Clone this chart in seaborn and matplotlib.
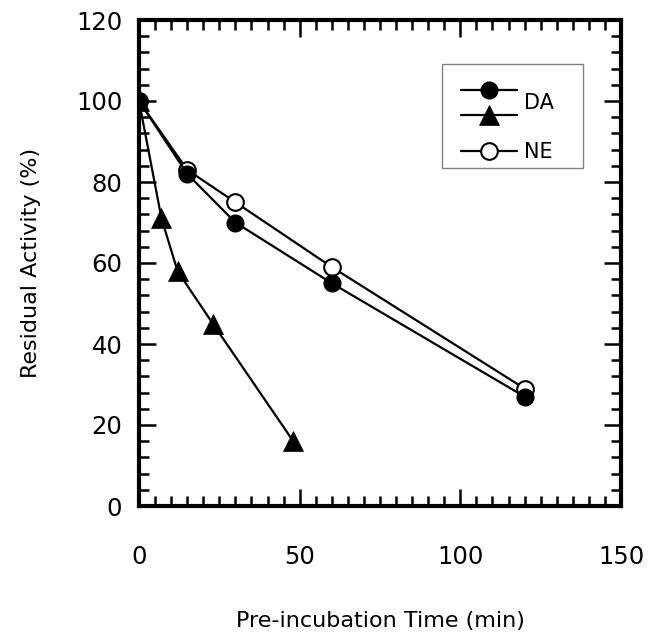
import numpy as np
import pandas as pd
import seaborn as sns
import matplotlib
matplotlib.use("Agg")
import matplotlib.pyplot as plt
from matplotlib.lines import Line2D
from matplotlib.legend_handler import HandlerBase
from matplotlib.ticker import MultipleLocator

# ---- data ----
da_circle_time = [0, 15, 30, 60, 120]
da_circle_activity = [100, 82, 70, 55, 27]
da_tri_time = [0, 7, 12, 23, 48]
da_tri_activity = [100, 71, 58, 45, 16]
ne_time = [0, 15, 30, 60, 120]
ne_activity = [100, 83, 75, 59, 29]

x_ticks = [0, 50, 100, 150]
y_ticks = [0, 20, 40, 60, 80, 100, 120]
legend_labels = ["DA", "NE"]

sns.set_theme(style="white")
plt.rcParams["font.family"] = ["DejaVu Sans"]
plt.rcParams.update({"text.color": "black", "axes.labelcolor": "black",
                     "xtick.color": "black", "ytick.color": "black"})

fig = plt.figure(figsize=(6.54, 6.37), dpi=100)
ax = fig.add_axes([139/654, 1-506/637, (621-139)/654, (506-20)/637])

df_ne = pd.DataFrame({"t": ne_time, "a": ne_activity})
df_c = pd.DataFrame({"t": da_circle_time, "a": da_circle_activity})
df_t = pd.DataFrame({"t": da_tri_time, "a": da_tri_activity})

LW = 1.6
sns.lineplot(data=df_ne, x="t", y="a", ax=ax, color="black", lw=LW,
             marker="o", markersize=12, markerfacecolor="white",
             markeredgecolor="black", markeredgewidth=1.5,
             estimator=None, sort=False, zorder=3)
sns.lineplot(data=df_t, x="t", y="a", ax=ax, color="black", lw=LW,
             marker="^", markersize=14, markerfacecolor="black",
             markeredgecolor="black", markeredgewidth=0.5,
             estimator=None, sort=False, zorder=4)
sns.lineplot(data=df_c, x="t", y="a", ax=ax, color="black", lw=LW,
             marker="o", markersize=12, markerfacecolor="black",
             markeredgecolor="black", markeredgewidth=1.0,
             estimator=None, sort=False, zorder=5)

ax.set_xlim(0, 150)
ax.set_ylim(0, 120)
ax.set_xticks(x_ticks)
ax.set_yticks(y_ticks)
ax.xaxis.set_minor_locator(MultipleLocator(5))
ax.yaxis.set_minor_locator(MultipleLocator(4))
ax.tick_params(which="both", direction="in", top=True, right=True,
               bottom=True, left=True, color="black")
ax.tick_params(which="major", length=12, width=1.8, labelsize=17.5)
ax.tick_params(which="minor", length=7, width=1.8)
ax.tick_params(axis="x", which="major", pad=28)
ax.tick_params(axis="y", which="major", pad=12)
for s in ax.spines.values():
    s.set_linewidth(3)
    s.set_color("black")
ax.set_xlabel("Pre-incubation Time (min)", fontsize=16, labelpad=30)
ax.set_ylabel("Residual Activity (%)", fontsize=16, labelpad=25)


class HandlerVStack(HandlerBase):
    def __init__(self, lead=11.0, gap_frac=1.2, **kw):
        super().__init__(**kw)
        self.lead = lead
        self.gap_frac = gap_frac

    def create_artists(self, legend, orig_handle, xdescent, ydescent,
                       width, height, fontsize, trans):
        arts = []
        n = len(orig_handle)
        gap = self.gap_frac * fontsize
        x0 = -xdescent + self.lead
        x1 = -xdescent + width
        for i, h in enumerate(orig_handle):
            yc = -ydescent + height / 2 + ((n - 1) / 2 - i) * gap
            ln = Line2D([x0, x1], [yc, yc], color=h.get_color(), lw=h.get_linewidth())
            mk = Line2D([(x0 + x1) / 2], [yc], linestyle="none", marker=h.get_marker(),
                        markersize=h.get_markersize(), markerfacecolor=h.get_markerfacecolor(),
                        markeredgecolor=h.get_markeredgecolor(),
                        markeredgewidth=h.get_markeredgewidth())
            ln.set_transform(trans)
            mk.set_transform(trans)
            arts += [ln, mk]
        return arts


h_c = Line2D([], [], color="black", lw=LW, marker="o", markersize=12,
             markerfacecolor="black", markeredgecolor="black", markeredgewidth=1.0)
h_t = Line2D([], [], color="black", lw=LW, marker="^", markersize=14,
             markerfacecolor="black", markeredgecolor="black", markeredgewidth=0.5)
h_n = Line2D([], [], color="black", lw=LW, marker="o", markersize=12,
             markerfacecolor="white", markeredgecolor="black", markeredgewidth=1.5)

leg = ax.legend([(h_c, h_t), (h_n,)], [lab + "    " for lab in legend_labels],
                handler_map={tuple: HandlerVStack()},
                loc="upper right", bbox_to_anchor=((583-139)/482, (506-64)/486),
                borderaxespad=0, fontsize=15, handlelength=3.45, handleheight=1.69,
                handletextpad=0.29, labelspacing=0.98, borderpad=0.15,
                frameon=True, fancybox=False, framealpha=1, edgecolor="gray")
leg.set_title(" ", prop={"size": 1})
leg.get_frame().set_linewidth(1.0)

fig.savefig("out.png", dpi=100)
